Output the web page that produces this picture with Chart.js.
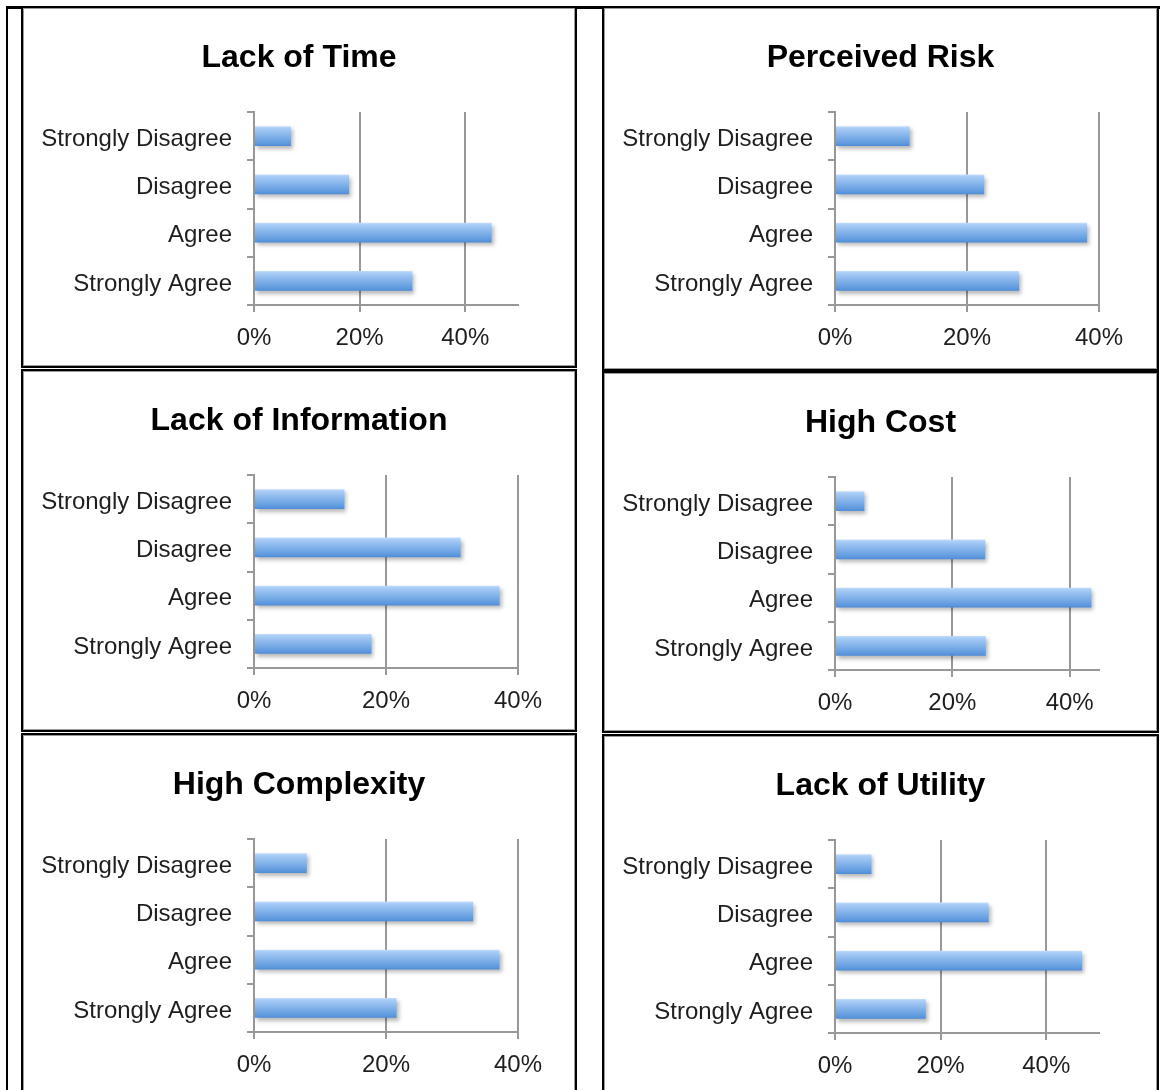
<!DOCTYPE html>
<html>
<head>
<meta charset="utf-8">
<title>Barriers to adoption</title>
<script src="https://cdn.jsdelivr.net/npm/chart.js@4.4.1/dist/chart.umd.min.js"></script>
<style>
  html, body { margin: 0; padding: 0; background: #fff; }
  body { width: 1163px; height: 1090px; position: relative; overflow: hidden; }
  .rule { position: absolute; background: #000; }
  .panel { position: absolute; box-sizing: border-box; border: 2px solid #000; background: #fff; }
  .panel .inner { position: absolute; left: 0; top: 0; right: 0; bottom: 0; border: 1px solid #9a9a9a; }
  .panel canvas { position: absolute; left: 0; top: 0; }
</style>
</head>
<body>
<script>
// Response categories (top to bottom)
const categories = ['Strongly Disagree', 'Disagree', 'Agree', 'Strongly Agree'];

// Share of respondents per barrier, in percent
const lackOfTime        = [7.0, 18.0, 45.0, 30.0];
const perceivedRisk     = [11.3, 22.6, 38.2, 27.9];
const lackOfInformation = [13.7, 31.3, 37.2, 17.8];
const highCost          = [5.0, 25.6, 43.7, 25.7];
const highComplexity    = [8.0, 33.2, 37.2, 21.6];
const lackOfUtility     = [6.9, 29.1, 46.8, 17.2];

// Chart titles and value-axis ranges
const chartTitles = ['Lack of Time', 'Perceived Risk', 'Lack of Information', 'High Cost', 'High Complexity', 'Lack of Utility'];
const chartSeries = [lackOfTime, perceivedRisk, lackOfInformation, highCost, highComplexity, lackOfUtility];
const axisMax     = [50, 40, 40, 45, 40, 50];
const tickStep    = 20;

// Page layout: table rules and the framed cell of each chart
const rules = [
  { left: 6, top: 6, width: 1154, height: 3 },
  { left: 6, top: 6, width: 2, height: 1090 }
];
const cells = [
  { left: 21,  top: 6,   width: 556, height: 362 },
  { left: 602, top: 6,   width: 557, height: 365 },
  { left: 21,  top: 369, width: 556, height: 363 },
  { left: 602, top: 371, width: 557, height: 362 },
  { left: 21,  top: 733, width: 556, height: 362 },
  { left: 602, top: 734, width: 557, height: 362 }
];
// Plot area inside each canvas
const plotBox = { left: 230, right: 494, top: 103, bottom: 296 };

const FONT = "'Liberation Sans', Arial, Helvetica, sans-serif";
Chart.defaults.font.family = FONT;

const CAT_PCT = 0.8, BAR_PCT = 0.51;
const TITLE_SIZE = 32, TITLE_LH = 1.2, TITLE_MID = 49;

// Vertical blue gradient for each bar
function barFill(ctx) {
  const chart = ctx.chart;
  const y = chart.scales && chart.scales.y;
  if (!chart.chartArea || !y || ctx.dataIndex === undefined) return '#7fb0ea';
  const band = (y.bottom - y.top) / categories.length * CAT_PCT * BAR_PCT;
  const c = y.getPixelForValue(ctx.dataIndex);
  const g = chart.ctx.createLinearGradient(0, c - band / 2, 0, c + band / 2);
  g.addColorStop(0, '#c4ddfa');
  g.addColorStop(0.1, '#a9cdf6');
  g.addColorStop(0.9, '#5b97dd');
  g.addColorStop(1, '#4f8bd4');
  return g;
}

// Soft drop shadow under the bars
const barShadow = {
  id: 'barShadow',
  beforeDatasetsDraw(chart) {
    const c = chart.ctx;
    c.save();
    c.shadowColor = 'rgba(0,0,0,0.28)';
    c.shadowBlur = 4;
    c.shadowOffsetX = 2;
    c.shadowOffsetY = 3;
  },
  afterDatasetsDraw(chart) {
    chart.ctx.restore();
  }
};

rules.forEach(r => {
  const d = document.createElement('div');
  d.className = 'rule';
  Object.assign(d.style, { left: r.left + 'px', top: r.top + 'px', width: r.width + 'px', height: r.height + 'px' });
  document.body.appendChild(d);
});

cells.forEach((cell, i) => {
  const panel = document.createElement('div');
  panel.className = 'panel';
  Object.assign(panel.style, { left: cell.left + 'px', top: cell.top + 'px', width: cell.width + 'px', height: cell.height + 'px' });
  const inner = document.createElement('div');
  inner.className = 'inner';
  panel.appendChild(inner);
  const W = cell.width - 6, H = cell.height - 6;
  const canvas = document.createElement('canvas');
  canvas.width = W; canvas.height = H;
  canvas.style.width = W + 'px'; canvas.style.height = H + 'px';
  inner.appendChild(canvas);
  document.body.appendChild(panel);

  const titleLine = TITLE_SIZE * TITLE_LH;
  const titleTop = TITLE_MID - titleLine / 2;
  new Chart(canvas, {
    type: 'bar',
    data: {
      labels: categories,
      datasets: [{
        data: chartSeries[i],
        backgroundColor: barFill,
        borderWidth: 0,
        categoryPercentage: CAT_PCT,
        barPercentage: BAR_PCT,
        clip: false
      }]
    },
    options: {
      indexAxis: 'y',
      responsive: false,
      animation: false,
      devicePixelRatio: 1,
      layout: { padding: 0 },
      plugins: {
        legend: { display: false },
        tooltip: { enabled: false },
        title: {
          display: true,
          text: chartTitles[i],
          color: '#000',
          font: { family: FONT, size: TITLE_SIZE, weight: 'bold', lineHeight: TITLE_LH },
          padding: { top: titleTop, bottom: plotBox.top - titleTop - titleLine }
        }
      },
      scales: {
        x: {
          min: 0,
          max: axisMax[i],
          ticks: {
            stepSize: tickStep,
            includeBounds: false,
            callback: v => v + '%',
            color: '#1e1e1e',
            font: { family: FONT, size: 24 },
            padding: 12,
            maxRotation: 0,
            autoSkip: false
          },
          grid: { color: '#989898', lineWidth: 2, tickLength: 7, drawOnChartArea: true, drawTicks: true },
          border: { color: '#989898', width: 2 },
          afterFit: s => { s.height = H - plotBox.bottom; }
        },
        y: {
          ticks: { color: '#1e1e1e', font: { family: FONT, size: 24 }, padding: 15, labelOffset: 3, autoSkip: false },
          grid: { color: '#989898', lineWidth: 2, tickLength: 7, drawOnChartArea: false, offset: true },
          border: { color: '#989898', width: 2 },
          afterFit: s => { s.width = plotBox.left; }
        },
        // empty margin on the right so the title stays centred on the cell
        yMargin: {
          type: 'category',
          position: 'right',
          display: true,
          ticks: { display: false },
          grid: { display: false, drawTicks: false },
          border: { display: false },
          afterFit: s => { s.width = W - plotBox.right; }
        }
      }
    },
    plugins: [barShadow]
  });
});
</script>
</body>
</html>
